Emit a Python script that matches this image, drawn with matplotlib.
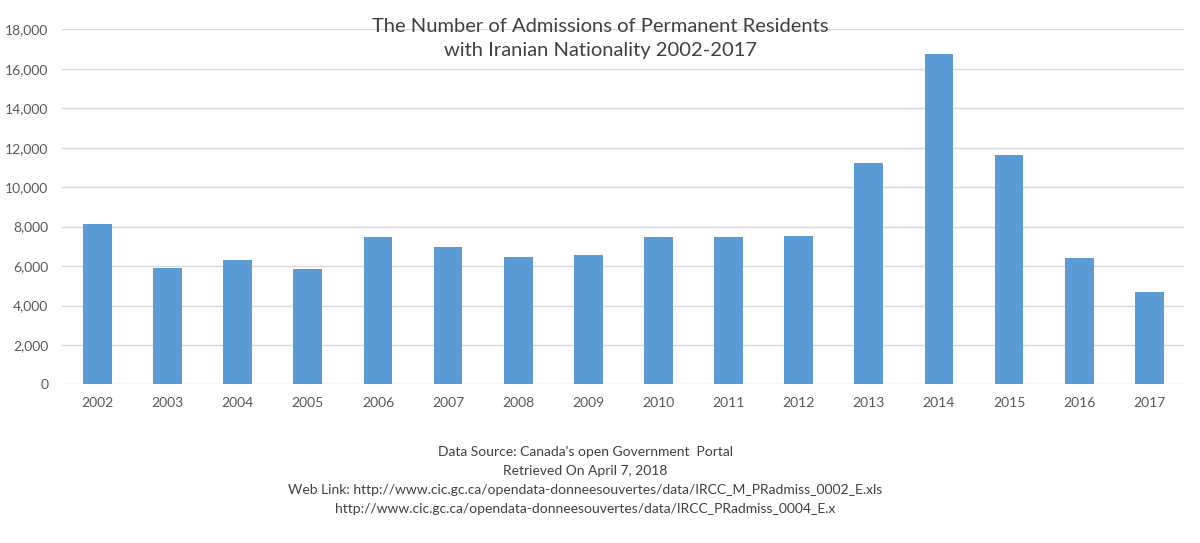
import matplotlib.pyplot as plt
from matplotlib.ticker import FuncFormatter

# Data
years = [str(y) for y in range(2002, 2018)]
admissions = [8130, 5880, 6320, 5850, 7450, 6960, 6450, 6550,
              7450, 7450, 7520, 11240, 16750, 11650, 6420, 4680]

title_lines = ["The Number of Admissions of Permanent Residents",
               "with Iranian Nationality 2002-2017"]
footer_lines = ["Data Source: Canada's open Government  Portal",
                "Retrieved On April 7, 2018",
                "Web Link: http://www.cic.gc.ca/opendata-donneesouvertes/data/IRCC_M_PRadmiss_0002_E.xls",
                "http://www.cic.gc.ca/opendata-donneesouvertes/data/IRCC_PRadmiss_0004_E.x"]

plt.rcParams['font.family'] = ['Lato', 'DejaVu Sans']

fig = plt.figure(figsize=(12, 5.43), dpi=100)
ax = fig.add_axes([0.052, 0.292, 0.935, 0.654])

ax.bar(range(len(years)), admissions, width=0.41, color='#5B9BD5', zorder=3)

ax.set_xlim(-0.5, len(years) - 0.5)
ax.set_ylim(0, 18000)
ax.set_yticks(range(0, 18001, 2000))
ax.yaxis.set_major_formatter(FuncFormatter(lambda v, p: f'{int(v):,}'))
ax.set_xticks(range(len(years)))
ax.set_xticklabels(years)

# Gridlines and styling
ax.grid(axis='y', color='#D9D9D9', linewidth=1, zorder=0)
for s in ax.spines.values():
    s.set_visible(False)
ax.tick_params(axis='both', length=0, labelsize=10, colors='#595959')
ax.tick_params(axis='x', pad=9)
ax.tick_params(axis='y', pad=10)

# Title
fig.text(0.5, 0.929, "\n".join(title_lines), ha='center', va='center',
         fontsize=14.5, color='#404040', linespacing=1.45)

# Footer notes
fig.text(0.488, 0.116, "\n".join(footer_lines), ha='center', va='center',
         fontsize=10, color='#404040', linespacing=1.7)

fig.savefig('out.png', dpi=100)
